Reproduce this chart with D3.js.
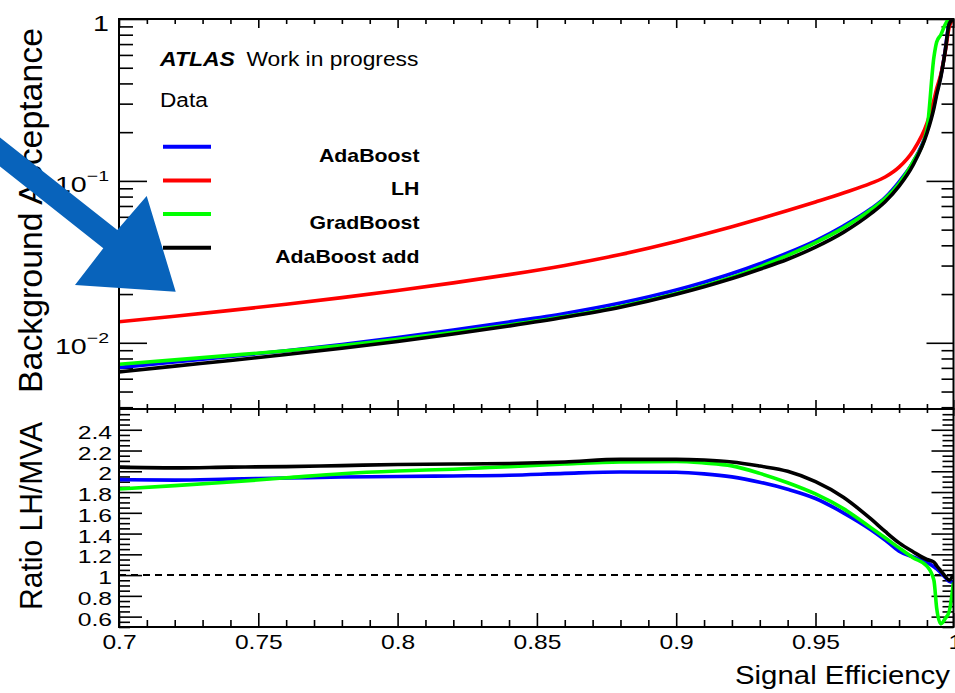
<!DOCTYPE html>
<html>
<head>
<meta charset="utf-8">
<script src="https://cdn.jsdelivr.net/npm/d3@7"></script>
<style>
  body { margin: 0; background: #fff; }
  svg { display: block; font-family: "Liberation Sans", Arial, Helvetica, sans-serif; }
  .tick line { stroke: #000; stroke-width: 1.6; }
</style>
</head>
<body>
<svg id="chart" width="955" height="693"></svg>
<script>
// Signal efficiency grid shared by every curve
const efficiency = [0.70, 0.72, 0.74, 0.76, 0.78, 0.80, 0.82, 0.84, 0.86, 0.88, 0.90, 0.91, 0.92,
    0.93, 0.94, 0.95, 0.96, 0.97, 0.975, 0.98, 0.985, 0.99, 0.9925, 0.9935, 0.995, 0.9965, 0.998, 0.9995];

// Background acceptance, upper pad
const bkgAdaBoost = [0.00703, 0.00762, 0.00823, 0.00894, 0.00977, 0.01079, 0.01199, 0.01344, 0.01518,
    0.0176, 0.02119, 0.02368, 0.02678, 0.03079, 0.03591, 0.04265, 0.05259, 0.06748, 0.079, 0.0988,
    0.1304, 0.2017, 0.2923, 0.351, 0.448, 0.63, 0.948, 1.0];
const bkgLH = [0.01349, 0.01459, 0.01585, 0.0173, 0.01901, 0.02104, 0.02344, 0.02636, 0.03006, 0.03508,
    0.04217, 0.04677, 0.05212, 0.05834, 0.06561, 0.07413, 0.08414, 0.09683, 0.1057, 0.1216, 0.1531,
    0.2265, 0.316, 0.372, 0.457, 0.617, 0.891, 1.0];
const bkgGradBoost = [0.00737, 0.00784, 0.00836, 0.00893, 0.00962, 0.0105, 0.0116, 0.01289, 0.01452,
    0.01678, 0.02013, 0.02249, 0.0254, 0.02946, 0.03471, 0.0416, 0.0513, 0.06655, 0.0777, 0.0964,
    0.1311, 0.2086, 0.58, 0.72, 0.80, 0.92, 1.0, 1.0];
const bkgAdaBoostAdd = [0.00661, 0.00718, 0.00777, 0.00846, 0.00925, 0.01019, 0.01132, 0.0127, 0.01438,
    0.01659, 0.01994, 0.02219, 0.02494, 0.02846, 0.0328, 0.039, 0.0481, 0.063, 0.0744, 0.0928,
    0.125, 0.197, 0.281, 0.341, 0.439, 0.623, 0.936, 1.0];

// Ratio LH / MVA, lower pad
const ratioAdaBoost = [1.92, 1.915, 1.925, 1.935, 1.945, 1.95, 1.955, 1.962, 1.98, 1.993, 1.99, 1.975,
    1.946, 1.895, 1.827, 1.738, 1.60, 1.435, 1.338, 1.231, 1.174, 1.123, 1.081, 1.06, 1.02, 0.98, 0.94, 0.93];
const ratioGradBoost = [1.83, 1.862, 1.897, 1.937, 1.977, 2.003, 2.02, 2.045, 2.07, 2.09, 2.095, 2.08,
    2.052, 1.98, 1.89, 1.782, 1.64, 1.455, 1.36, 1.262, 1.168, 1.086, 0.95, 0.68, 0.53, 0.58, 0.65, 0.93];
const ratioAdaBoostAdd = [2.04, 2.033, 2.04, 2.045, 2.055, 2.065, 2.07, 2.075, 2.09, 2.115, 2.115, 2.108,
    2.09, 2.05, 2.0, 1.90, 1.75, 1.538, 1.42, 1.31, 1.225, 1.15, 1.125, 1.09, 1.04, 0.99, 0.952, 1.005];

const legendLabels = ['AdaBoost', 'LH', 'GradBoost', 'AdaBoost add'];
const xTickLabels = [0.7, 0.75, 0.8, 0.85, 0.9, 0.95, 1];
const bkgTickLabels = [0.01, 0.1, 1];
const ratioTickLabels = [0.6, 0.8, 1, 1.2, 1.4, 1.6, 1.8, 2, 2.2, 2.4];

const colors = { AdaBoost: '#0000ff', LH: '#ff0000', GradBoost: '#00ff00', 'AdaBoost add': '#000000' };

const svg = d3.select('#chart');

// frame geometry (pixels)
const frameLeft = 119, frameRight = 953.5, frameTop = 19, frameSplit = 409, frameBottom = 627;

const x = d3.scaleLinear().domain([0.7, 1.0]).range([frameLeft, 954.8]);
const yBkg = d3.scaleLog().domain([0.0039, 1]).range([frameSplit, frameTop]);
const yRatio = d3.scaleLinear().domain([0.5, 2.6]).range([frameBottom, frameSplit]);

// horizontally stretch text to mimic the (wide) ROOT output
function stretch(sel, factor) {
    sel.each(function () {
        const len = this.getComputedTextLength();
        d3.select(this).attr('textLength', len * factor).attr('lengthAdjust', 'spacingAndGlyphs');
    });
}

function drawAxis(axis, tx, ty) {
    const g = svg.append('g').attr('transform', `translate(${tx},${ty})`).call(axis);
    g.select('.domain').remove();
    return g;
}

// clip paths for the two pads
const defs = svg.append('defs');
defs.append('clipPath').attr('id', 'clip-top').append('rect')
    .attr('x', frameLeft).attr('y', frameTop)
    .attr('width', frameRight - frameLeft).attr('height', frameSplit - frameTop);
defs.append('clipPath').attr('id', 'clip-ratio').append('rect')
    .attr('x', frameLeft).attr('y', frameSplit)
    .attr('width', frameRight - frameLeft).attr('height', frameBottom - frameSplit);

// ---- ticks ----
const xMinor = d3.range(70, 101).filter(v => v % 5 !== 0).map(v => v / 100);
const isDecade = v => Math.abs(Math.log10(v) - Math.round(Math.log10(v))) < 1e-6;
const bkgMinor = yBkg.ticks().filter(v => !isDecade(v));
const ratioMinor = d3.range(10, 53).filter(v => v % 4 !== 0).map(v => v / 20);

// upper pad: x ticks on top and bottom edges
drawAxis(d3.axisTop(x).tickValues(xTickLabels).tickSizeInner(-9).tickSizeOuter(0).tickFormat(''), 0, frameTop);
drawAxis(d3.axisTop(x).tickValues(xMinor).tickSizeInner(-5).tickSizeOuter(0).tickFormat(''), 0, frameTop);
drawAxis(d3.axisBottom(x).tickValues(xTickLabels).tickSizeInner(-9).tickSizeOuter(0).tickFormat(''), 0, frameSplit);
drawAxis(d3.axisBottom(x).tickValues(xMinor).tickSizeInner(-5).tickSizeOuter(0).tickFormat(''), 0, frameSplit);

// upper pad: log y ticks
const bkgAxis = drawAxis(d3.axisLeft(yBkg).tickValues(bkgTickLabels).tickSizeInner(-28).tickSizeOuter(0)
    .tickPadding(10).tickFormat(''), frameLeft, 0);
drawAxis(d3.axisLeft(yBkg).tickValues(bkgMinor).tickSizeInner(-14).tickSizeOuter(0).tickFormat(''), frameLeft, 0);
drawAxis(d3.axisRight(yBkg).tickValues(bkgTickLabels).tickSizeInner(-27).tickSizeOuter(0).tickFormat(''), frameRight, 0);
drawAxis(d3.axisRight(yBkg).tickValues(bkgMinor).tickSizeInner(-12).tickSizeOuter(0).tickFormat(''), frameRight, 0);

bkgAxis.selectAll('.tick text').each(function (d) {
    const t = d3.select(this).attr('font-size', 22).attr('dy', '0.5em').attr('fill', '#000');
    const exp = Math.round(Math.log10(d));
    if (exp === 0) {
        t.text('1');
    } else {
        t.text('10');
        t.append('tspan').attr('font-size', 15).attr('dy', '-0.75em').text('\u2212' + (-exp));
    }
}).call(stretch, 1.3);

// lower pad: x ticks
drawAxis(d3.axisTop(x).tickValues(xTickLabels).tickSizeInner(-7).tickSizeOuter(0).tickFormat(''), 0, frameSplit);
drawAxis(d3.axisTop(x).tickValues(xMinor).tickSizeInner(-4).tickSizeOuter(0).tickFormat(''), 0, frameSplit);
const xAxis = drawAxis(d3.axisBottom(x).tickValues(xTickLabels).tickSizeInner(-14).tickSizeOuter(0)
    .tickPadding(7).tickFormat(d3.format('')), 0, frameBottom);
drawAxis(d3.axisBottom(x).tickValues(xMinor).tickSizeInner(-7).tickSizeOuter(0).tickFormat(''), 0, frameBottom);
xAxis.selectAll('.tick text').attr('font-size', 21).attr('fill', '#000')
    .call(stretch, 1.17);

// lower pad: ratio y ticks
const ratioAxis = drawAxis(d3.axisLeft(yRatio).tickValues(ratioTickLabels).tickSizeInner(-23).tickSizeOuter(0)
    .tickPadding(7).tickFormat(d3.format('')), frameLeft, 0);
drawAxis(d3.axisLeft(yRatio).tickValues(ratioMinor).tickSizeInner(-11).tickSizeOuter(0).tickFormat(''), frameLeft, 0);
drawAxis(d3.axisRight(yRatio).tickValues(ratioTickLabels).tickSizeInner(-22).tickSizeOuter(0).tickFormat(''), frameRight, 0);
drawAxis(d3.axisRight(yRatio).tickValues(ratioMinor).tickSizeInner(-11).tickSizeOuter(0).tickFormat(''), frameRight, 0);
ratioAxis.selectAll('.tick text').attr('font-size', 19).attr('dy', '0.45em').attr('fill', '#000')
    .call(stretch, 1.3);

svg.selectAll('.tick text').attr('font-family', '"Liberation Sans", Arial, Helvetica, sans-serif');

// ---- curves ----
const bkgLine = d3.line().curve(d3.curveMonotoneX).x((d, i) => x(efficiency[i])).y(d => yBkg(d));
const ratioLine = d3.line().curve(d3.curveMonotoneX).x((d, i) => x(efficiency[i])).y(d => yRatio(d));

const bkgSeries = [
    { label: 'AdaBoost', values: bkgAdaBoost },
    { label: 'LH', values: bkgLH },
    { label: 'GradBoost', values: bkgGradBoost },
    { label: 'AdaBoost add', values: bkgAdaBoostAdd }
];
const ratioSeries = [
    { label: 'AdaBoost', values: ratioAdaBoost },
    { label: 'GradBoost', values: ratioGradBoost },
    { label: 'AdaBoost add', values: ratioAdaBoostAdd }
];

svg.append('g').attr('clip-path', 'url(#clip-top)')
    .selectAll('path').data(bkgSeries).enter().append('path')
    .attr('fill', 'none')
    .attr('stroke', s => colors[s.label])
    .attr('stroke-width', 3.6)
    .attr('stroke-linejoin', 'round')
    .attr('d', s => bkgLine(s.values));

const ratioGroup = svg.append('g').attr('clip-path', 'url(#clip-ratio)');
ratioGroup.append('line')
    .attr('x1', frameLeft).attr('x2', frameRight)
    .attr('y1', yRatio(1)).attr('y2', yRatio(1))
    .attr('stroke', '#000').attr('stroke-width', 2).attr('stroke-dasharray', '7,5');
ratioGroup.selectAll('path').data(ratioSeries).enter().append('path')
    .attr('fill', 'none')
    .attr('stroke', s => colors[s.label])
    .attr('stroke-width', 3.6)
    .attr('stroke-linejoin', 'round')
    .attr('d', s => ratioLine(s.values));

// ---- frames ----
svg.append('rect')
    .attr('x', frameLeft).attr('y', frameTop)
    .attr('width', frameRight - frameLeft).attr('height', frameSplit - frameTop)
    .attr('fill', 'none').attr('stroke', '#000').attr('stroke-width', 2);
svg.append('rect')
    .attr('x', frameLeft).attr('y', frameSplit)
    .attr('width', frameRight - frameLeft).attr('height', frameBottom - frameSplit)
    .attr('fill', 'none').attr('stroke', '#000').attr('stroke-width', 2);

// ---- axis titles ----
svg.append('text')
    .attr('transform', 'translate(42,393) rotate(-90)')
    .attr('font-size', 34).attr('textLength', 365).attr('lengthAdjust', 'spacingAndGlyphs')
    .text('Background Acceptance');
svg.append('text')
    .attr('transform', 'translate(42,610) rotate(-90)')
    .attr('font-size', 32).attr('textLength', 188).attr('lengthAdjust', 'spacingAndGlyphs')
    .text('Ratio LH/MVA');
svg.append('text')
    .attr('x', 950).attr('y', 684).attr('text-anchor', 'end')
    .attr('font-size', 25).attr('textLength', 215).attr('lengthAdjust', 'spacingAndGlyphs')
    .text('Signal Efficiency');

// ---- labels and legend ----
svg.append('text').attr('x', 160).attr('y', 66).attr('font-size', 20)
    .attr('font-weight', 'bold').attr('font-style', 'italic').text('ATLAS')
    .call(stretch, 1.15);
svg.append('text').attr('x', 246.5).attr('y', 66).attr('font-size', 20)
    .text('Work in progress').call(stretch, 1.14);
svg.append('text').attr('x', 160).attr('y', 106.7).attr('font-size', 20)
    .text('Data').call(stretch, 1.13);

const legend = svg.append('g').selectAll('g').data(legendLabels).enter().append('g')
    .attr('transform', (d, i) => `translate(0,${146.7 + i * 33.7})`);
legend.append('line')
    .attr('x1', 163).attr('x2', 211).attr('y1', 0).attr('y2', 0)
    .attr('stroke', d => colors[d]).attr('stroke-width', 4);
legend.append('text')
    .attr('x', 419.5).attr('y', 15).attr('text-anchor', 'end')
    .attr('font-size', 19).attr('font-weight', 'bold')
    .text(d => d)
    .call(stretch, 1.12);

// ---- blue annotation arrow (drawn on top) ----
const arrowPoints = [[-20, 121.6], [117.3, 230], [146.7, 196], [175.7, 291.7], [75, 285], [103.3, 248.3], [-20, 150.8]];
svg.append('polygon')
    .attr('points', arrowPoints.map(p => p.join(',')).join(' '))
    .attr('fill', '#0863bb');
</script>
</body>
</html>
